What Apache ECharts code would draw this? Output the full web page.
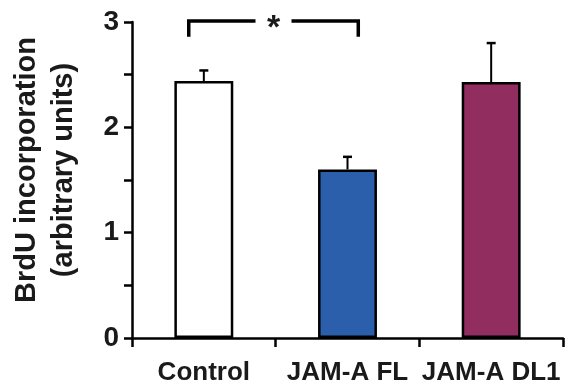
<!DOCTYPE html>
<html>
<head>
<meta charset="utf-8">
<script src="https://cdn.jsdelivr.net/npm/echarts@6/dist/echarts.min.js"></script>
<style>
  html, body { margin: 0; padding: 0; background: #fff; }
  #main { width: 570px; height: 388px; }
</style>
</head>
<body>
<div id="main"></div>
<script>
var groups = ['Control', 'JAM-A FL', 'JAM-A DL1'];
var means = [2.44, 1.60, 2.43];
var upper = [2.54, 1.72, 2.80];
var barColors = ['#ffffff', '#2b5fab', '#922d5f'];
var yTicks = [0, 1, 2, 3];

// significance bracket: from group 0 to group 1, top and leg bottom values
var sigPairs = [[0, 1, 3.01, 2.86, '*']];

var myChart = echarts.init(document.getElementById('main'));

var font = 'Liberation Sans, Arial, sans-serif';

var errData = groups.map(function (g, i) {
    return [i, means[i], upper[i]];
});

option = {
    animation: false,
    grid: {
        left: 128,
        right: 7,
        top: 22,
        bottom: 50
    },
    xAxis: {
        type: 'category',
        data: groups,
        axisLine: { lineStyle: { color: '#000', width: 2.5 } },
        axisTick: { show: true, length: 9, lineStyle: { color: '#000', width: 2.5 } },
        axisLabel: {
            interval: 0,
            color: '#1a1a1a',
            fontFamily: font,
            fontWeight: 'bold',
            fontSize: 26,
            margin: 22
        }
    },
    yAxis: {
        type: 'value',
        min: 0,
        max: 3,
        interval: 0.5,
        name: 'BrdU incorporation\n(arbitrary units)',
        nameLocation: 'middle',
        nameRotate: 90,
        nameGap: 50,
        nameTextStyle: {
            color: '#1a1a1a',
            fontFamily: font,
            fontWeight: 'bold',
            fontSize: 29,
            lineHeight: 37,
            padding: [0, 0, 0, 20]
        },
        splitLine: { show: false },
        axisLine: { show: true, lineStyle: { color: '#000', width: 2.5 } },
        axisTick: { show: true, length: 8, lineStyle: { color: '#000', width: 2.5 } },
        axisLabel: {
            color: '#1a1a1a',
            fontFamily: font,
            fontWeight: 'bold',
            fontSize: 28,
            margin: 13,
            formatter: function (v) {
                return yTicks.indexOf(v) >= 0 ? String(v) : '';
            }
        }
    },
    series: [{
        type: 'bar',
        barWidth: '41%',
        data: means.map(function (v, i) {
            return { value: v, itemStyle: { color: barColors[i] } };
        }),
        itemStyle: { borderColor: '#000', borderWidth: 2.5 }
    }, {
        type: 'custom',
        data: errData,
        z: 3,
        renderItem: function (params, api) {
            var p0 = api.coord([api.value(0), api.value(1)]);
            var p1 = api.coord([api.value(0), api.value(2)]);
            var hw = 4.5;
            return {
                type: 'group',
                children: [{
                    type: 'line',
                    shape: { x1: p0[0], y1: p0[1], x2: p1[0], y2: p1[1] },
                    style: { stroke: '#000', lineWidth: 2 }
                }, {
                    type: 'line',
                    shape: { x1: p1[0] - hw, y1: p1[1], x2: p1[0] + hw, y2: p1[1] },
                    style: { stroke: '#000', lineWidth: 2.5 }
                }]
            };
        }
    }, {
        type: 'custom',
        data: sigPairs,
        z: 4,
        clip: false,
        renderItem: function (params, api) {
            var bw = api.size([1, 0])[0];
            var a = api.coord([api.value(0), api.value(2)]);
            var b = api.coord([api.value(1), api.value(2)]);
            var yb = api.coord([api.value(0), api.value(3)])[1];
            var L = a[0] - 0.105 * bw;
            var R = b[0] + 0.075 * bw;
            var y = a[1];
            var mid = (L + R) / 2;
            var gap = 18;
            var st = { stroke: '#000', lineWidth: 3.5, fill: null };
            return {
                type: 'group',
                children: [{
                    type: 'polyline',
                    shape: { points: [[L, yb], [L, y], [mid - gap, y]] },
                    style: st
                }, {
                    type: 'polyline',
                    shape: { points: [[mid + gap, y], [R, y], [R, yb]] },
                    style: st
                }, {
                    type: 'text',
                    style: {
                        x: mid,
                        y: y + 8,
                        text: sigPairs[params.dataIndex][4],
                        fill: '#1a1a1a',
                        font: 'bold 34px ' + font,
                        align: 'center',
                        verticalAlign: 'middle'
                    }
                }]
            };
        }
    }]
};

myChart.setOption(option);
</script>
</body>
</html>
